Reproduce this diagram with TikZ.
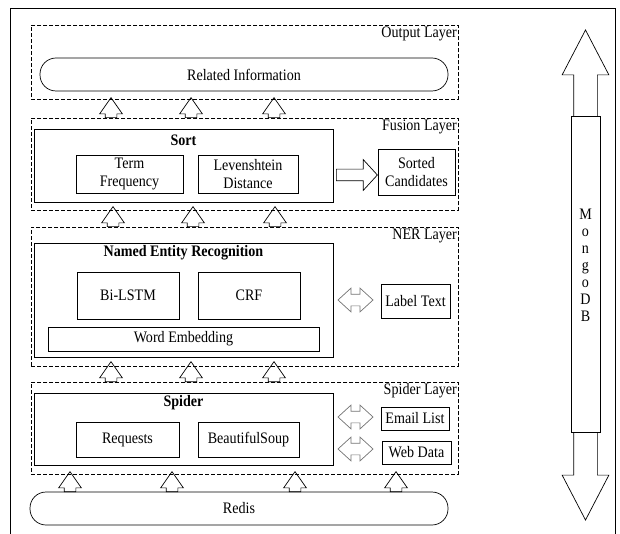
\documentclass[tikz,border=0pt]{standalone}
\usepackage{fontspec}
\setmainfont{Liberation Serif}[FakeStretch=0.88]
\usetikzlibrary{shapes.arrows}

\tikzset{
  layerbox/.style={draw, dash pattern=on 4pt off 2pt, anchor=north west, inner sep=0pt},
  modbox/.style={draw, inner sep=0pt, align=center},
  layertag/.style={anchor=north east, inner sep=1.5pt},
  uparr/.style={draw, single arrow, rotate=90, anchor=tail,
    minimum height=20pt, inner xsep=0pt, inner ysep=5.5pt,
    single arrow head extend=5.5pt, single arrow tip angle=70},
  sidearr/.style={draw=black!55, double arrow, minimum height=35pt,
    inner xsep=0pt, inner ysep=5.5pt,
    double arrow head extend=6pt, double arrow tip angle=85},
}

\begin{document}
\begin{tikzpicture}[x=1pt, y=-1pt, line width=0.7pt,
  font=\fontsize{16pt}{18pt}\selectfont]
  \useasboundingbox (0,0) rectangle (620,534);

  % outer frame (runs off the bottom of the page)
  \draw (10,8) rectangle (615,545);

  % Output Layer
  \node[layerbox, minimum width=427pt, minimum height=74pt] (outL) at (31,25) {};
  \node[layertag] at (outL.north east) {Output Layer};
  \node[modbox, rounded corners=16pt, minimum width=408pt, minimum height=33pt]
    (info) at (244,74.5) {Related Information};

  % Fusion Layer
  \node[layerbox, minimum width=427pt, minimum height=92pt] (fusL) at (31,118) {};
  \node[layertag] at (fusL.north east) {Fusion Layer};
  \node[modbox, minimum width=299pt, minimum height=73pt] (sort) at (183.5,165.5) {};
  \node[font=\fontsize{16pt}{18pt}\selectfont\bfseries] (sorttitle) at (183.5,140) {Sort};
  \node[modbox, minimum width=107pt, minimum height=38pt] (tf) at (129.5,174) {Term\\Frequency};
  \node[modbox, minimum width=100pt, minimum height=38pt] (lev) at (248,174) {Levenshtein\\Distance};
  \node[modbox, minimum width=77pt, minimum height=46pt] (cand) at (416.5,172) {Sorted\\Candidates};
  \node[draw, single arrow, anchor=tail, minimum height=41pt, inner xsep=0pt,
    inner ysep=5.5pt, single arrow head extend=9.5pt, single arrow tip angle=95]
    (sortarr) at (336,175) {};

  % NER Layer
  \node[layerbox, minimum width=427pt, minimum height=139pt] (nerL) at (31,227) {};
  \node[layertag] at (nerL.north east) {NER Layer};
  \node[modbox, minimum width=299pt, minimum height=114pt] (ner) at (183.5,300) {};
  \node[font=\fontsize{16pt}{18pt}\selectfont\bfseries] (nertitle) at (183.5,253) {Named Entity Recognition};
  \node[modbox, minimum width=102pt, minimum height=47pt] (bilstm) at (128,295.5) {Bi-LSTM};
  \node[modbox, minimum width=102pt, minimum height=47pt] (crf) at (249,295.5) {CRF};
  \node[modbox, minimum width=271pt, minimum height=24pt] (emb) at (183.5,339) {Word Embedding};
  \node[sidearr] (nerarr) at (355.5,300) {};
  \node[modbox, minimum width=69pt, minimum height=34pt] (lbl) at (415.5,301) {Label Text};

  % Spider Layer
  \node[layerbox, minimum width=427pt, minimum height=92pt] (spiL) at (31,382) {};
  \node[layertag] at (spiL.north east) {Spider Layer};
  \node[modbox, minimum width=299pt, minimum height=72pt] (spider) at (183.5,429) {};
  \node[font=\fontsize{16pt}{18pt}\selectfont\bfseries] (spidertitle) at (183.5,403) {Spider};
  \node[modbox, minimum width=103pt, minimum height=35pt] (req) at (127.5,439.5) {Requests};
  \node[modbox, minimum width=101pt, minimum height=35pt] (soup) at (248.5,439.5) {BeautifulSoup};
  \node[sidearr] (mailarr) at (355.5,417) {};
  \node[sidearr] (webarr) at (355.5,449) {};
  \node[modbox, minimum width=68pt, minimum height=23pt] (mail) at (415,418.5) {Email List};
  \node[modbox, minimum width=69pt, minimum height=23pt] (web) at (416.5,452.5) {Web Data};

  % Redis
  \node[modbox, rounded corners=16pt, minimum width=418pt, minimum height=33pt]
    (redis) at (239,508.5) {Redis};

  % hollow arrows between the layers
  \foreach \x in {111,191,274}
    \node[uparr] (up-out-\x) at (\x,118) {};
  \foreach \x in {113,193,275}
    \node[uparr] (up-fus-\x) at (\x,227) {};
  \foreach \x in {111,191,274}
    \node[uparr] (up-ner-\x) at (\x,382) {};
  \foreach \x in {70,172,295,396}
    \node[uparr] (up-spi-\x) at (\x,492) {};

  % MongoDB store on the right
  \node[draw, double arrow, rotate=90, minimum height=490pt, inner xsep=0pt,
    inner ysep=11.5pt, double arrow head extend=11.5pt, double arrow tip angle=55]
    (mongoarr) at (585.5,275) {};
  \node[draw, fill=white, minimum width=29pt, minimum height=316pt, inner sep=0pt]
    (mongo) at (585.5,274) {};
  \node[align=center, inner sep=0pt, font=\fontsize{16pt}{17pt}\selectfont]
    (mongotxt) at ([yshift=9pt]mongo.center) {M\\o\\n\\g\\o\\D\\B};
\end{tikzpicture}
\end{document}
